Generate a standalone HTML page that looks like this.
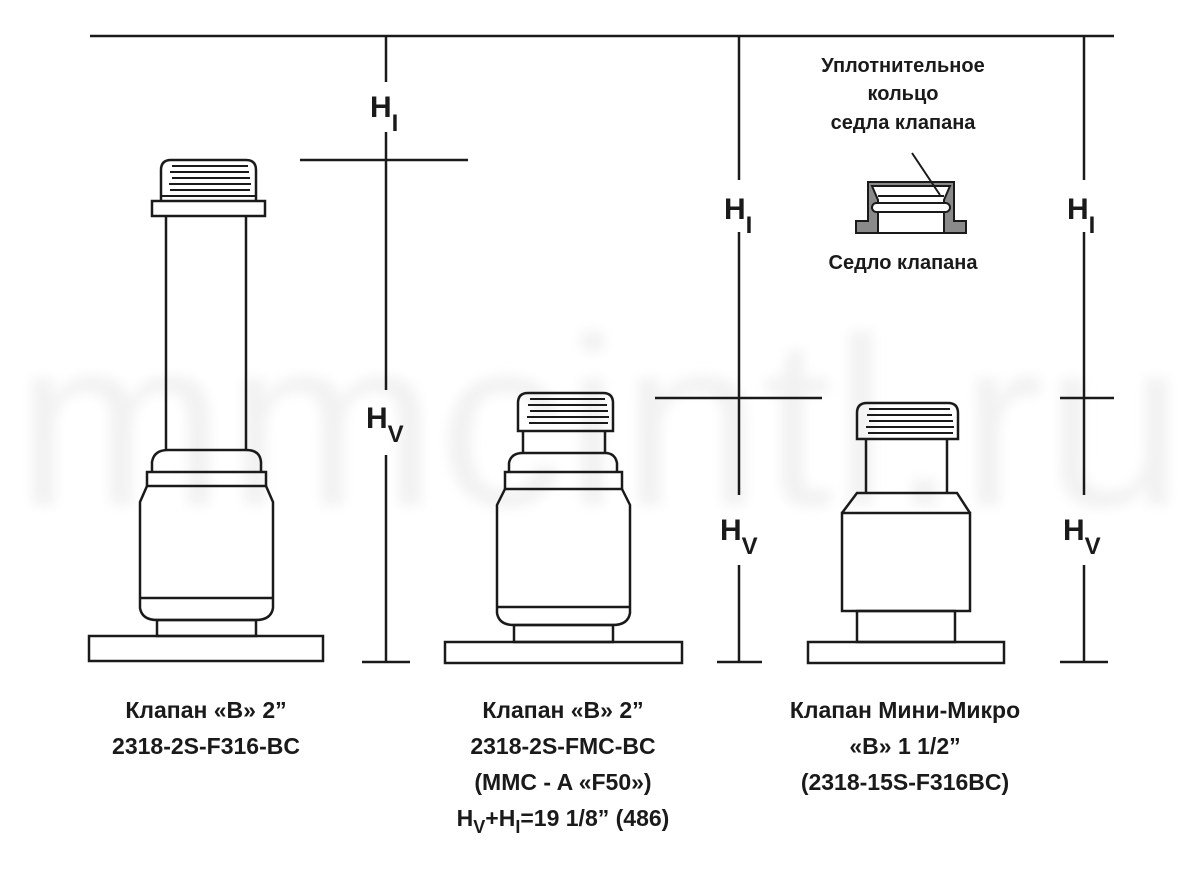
<!DOCTYPE html>
<html><head><meta charset="utf-8"><style>
html,body{margin:0;padding:0;background:#fff;}
svg{display:block;}
.t{font-family:"Liberation Sans","DejaVu Sans",sans-serif;font-weight:bold;fill:#1a1a1a;}
</style></head><body>
<svg width="1200" height="874" viewBox="0 0 1200 874" xmlns="http://www.w3.org/2000/svg">
<defs><filter id="b"><feGaussianBlur stdDeviation="6"/></filter></defs>
<text x="600" y="505" text-anchor="middle" font-family="Liberation Sans, sans-serif" font-size="240" fill="#f2f2f2" filter="url(#b)" textLength="1170" lengthAdjust="spacingAndGlyphs">mmcintl.ru</text>
<g stroke="#1a1a1a" stroke-width="2.5" fill="none">
<line x1="90" y1="36" x2="1114" y2="36"/>
<line x1="386" y1="36" x2="386" y2="82"/><line x1="386" y1="132" x2="386" y2="390"/><line x1="386" y1="455" x2="386" y2="662"/>
<line x1="300" y1="160" x2="468" y2="160"/><line x1="362" y1="662" x2="410" y2="662"/>
<line x1="739" y1="36" x2="739" y2="180"/><line x1="739" y1="232" x2="739" y2="495"/><line x1="739" y1="565" x2="739" y2="662"/>
<line x1="655" y1="398" x2="822" y2="398"/><line x1="717" y1="662" x2="762" y2="662"/>
<line x1="1084" y1="36" x2="1084" y2="180"/><line x1="1084" y1="232" x2="1084" y2="495"/><line x1="1084" y1="565" x2="1084" y2="662"/>
<line x1="1060" y1="398" x2="1114" y2="398"/><line x1="1060" y1="662" x2="1108" y2="662"/>

<path d="M161,201 L161,170 Q161,160 171,160 L246,160 Q256,160 256,170 L256,201"/>
<line x1="172" y1="166" x2="248" y2="166" stroke-width="2"/>
<line x1="170" y1="172" x2="249" y2="172" stroke-width="2"/>
<line x1="172" y1="178" x2="250" y2="178" stroke-width="2"/>
<line x1="169" y1="184" x2="251" y2="184" stroke-width="2"/>
<line x1="170" y1="190" x2="250" y2="190" stroke-width="2"/>
<line x1="161" y1="196" x2="256" y2="196" stroke-width="2"/>
<rect x="152" y="201" width="113" height="15"/>
<line x1="166" y1="216" x2="166" y2="450"/><line x1="246" y1="216" x2="246" y2="450"/>
<path d="M152,472 L152,462 Q154,450 168,450 L246,450 Q260,450 261,462 L261,472"/>
<rect x="147" y="472" width="119" height="14"/>
<path d="M147,486 L140,502 L140,598 M273,598 L273,502 L266,486"/>
<line x1="140" y1="598" x2="273" y2="598"/>
<path d="M140,598 L140,608 Q142,620 157,620 L256,620 Q271,620 273,608 L273,598"/>
<rect x="157" y="620" width="99" height="16"/>
<rect x="89" y="636" width="234" height="25"/>

<path d="M518,431 L518,403 Q518,393 528,393 L603,393 Q613,393 613,403 L613,431 Z"/>
<line x1="530" y1="399" x2="605" y2="399" stroke-width="2"/>
<line x1="528" y1="405" x2="607" y2="405" stroke-width="2"/>
<line x1="530" y1="411" x2="608" y2="411" stroke-width="2"/>
<line x1="527" y1="417" x2="609" y2="417" stroke-width="2"/>
<line x1="529" y1="423" x2="608" y2="423" stroke-width="2"/>
<line x1="523" y1="431" x2="523" y2="453"/><line x1="605" y1="431" x2="605" y2="453"/>
<path d="M509,472 L509,463 Q511,453 523,453 L605,453 Q615,453 617,463 L617,472"/>
<rect x="505" y="472" width="117" height="17"/>
<path d="M505,489 L497,505 L497,607 M630,607 L630,505 L622,489"/>
<line x1="497" y1="607" x2="630" y2="607"/>
<path d="M497,607 L497,613 Q499,625 514,625 L613,625 Q628,625 630,613 L630,607"/>
<rect x="514" y="625" width="99" height="17"/>
<rect x="445" y="642" width="237" height="21"/>

<path d="M857,439 L857,413 Q857,403 867,403 L948,403 Q958,403 958,413 L958,439 Z"/>
<line x1="869" y1="409" x2="950" y2="409" stroke-width="2"/>
<line x1="867" y1="415" x2="952" y2="415" stroke-width="2"/>
<line x1="869" y1="421" x2="953" y2="421" stroke-width="2"/>
<line x1="866" y1="427" x2="954" y2="427" stroke-width="2"/>
<line x1="868" y1="433" x2="953" y2="433" stroke-width="2"/>
<line x1="866" y1="439" x2="866" y2="493"/><line x1="947" y1="439" x2="947" y2="493"/>
<path d="M842,513 L857,493 L957,493 L970,513"/>
<rect x="842" y="513" width="128" height="98"/>
<rect x="857" y="611" width="98" height="31"/>
<rect x="808" y="642" width="196" height="21"/>
</g>

<g stroke="#1a1a1a" stroke-width="2">
<path d="M868,182 L954,182 L954,221 L966,221 L966,233 L856,233 L856,221 L868,221 Z" fill="#8a8a8a"/>
<path d="M878,233 L878,200 L872,186 L950,186 L944,200 L944,233 Z" fill="#fff"/>
<rect x="872" y="203" width="78" height="9" rx="4.5" fill="#fff"/>
<line x1="878" y1="196" x2="944" y2="196"/>
<line x1="912" y1="153" x2="940" y2="195"/>
</g>

<g class="t" text-anchor="middle" font-size="20">
<text x="903" y="72">Уплотнительное</text>
<text x="903" y="100">кольцо</text>
<text x="903" y="129">седла клапана</text>
<text x="903" y="269">Седло клапана</text>
</g>

<g class="t" font-size="30">
<text x="370" y="117">H<tspan font-size="24" dy="14">I</tspan></text>
<text x="366" y="428">H<tspan font-size="24" dy="14">V</tspan></text>
<text x="724" y="219">H<tspan font-size="24" dy="14">I</tspan></text>
<text x="720" y="540">H<tspan font-size="24" dy="14">V</tspan></text>
<text x="1067" y="219">H<tspan font-size="24" dy="14">I</tspan></text>
<text x="1063" y="540">H<tspan font-size="24" dy="14">V</tspan></text>
</g>

<g class="t" text-anchor="middle" font-size="23">
<text x="206" y="718">Клапан «B» 2”</text>
<text x="206" y="754">2318-2S-F316-BC</text>
<text x="563" y="718">Клапан «B» 2”</text>
<text x="563" y="754">2318-2S-FMC-BC</text>
<text x="563" y="790">(MMC - A «F50»)</text>
<text x="563" y="826">H<tspan font-size="18" dy="7">V</tspan><tspan dy="-7">+H</tspan><tspan font-size="18" dy="7">I</tspan><tspan dy="-7">=19 1/8” (486)</tspan></text>
<text x="905" y="718">Клапан Мини-Микро</text>
<text x="905" y="754">«B» 1 1/2”</text>
<text x="905" y="790">(2318-15S-F316BC)</text>
</g>
</svg>
</body></html>
